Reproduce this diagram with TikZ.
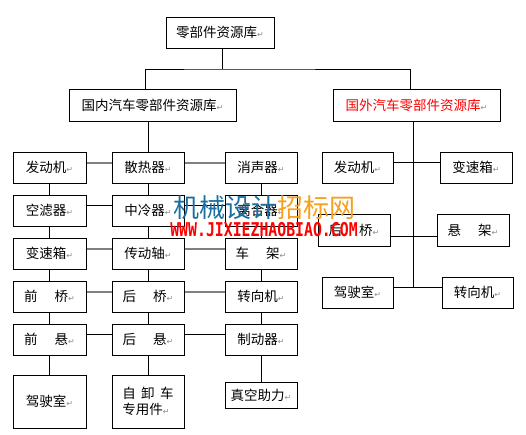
\documentclass[tikz,border=0pt]{standalone}
\usepackage{fontspec}
\newfontfamily\cjk{Noto Sans CJK SC}
\newfontfamily\symfont{DejaVu Sans}
\newfontfamily\wmmono{DejaVu Sans Mono}
\usetikzlibrary{positioning}
\definecolor{linkgray}{RGB}{128,128,128}
\definecolor{retgray}{RGB}{140,140,140}
\definecolor{wmblue}{RGB}{28,110,160}
\definecolor{wmorange}{RGB}{247,160,30}
\newcommand{\retmark}{{\symfont\fontsize{8}{8}\selectfont\color{retgray}↵}}

\begin{document}
\begin{tikzpicture}[
    x=1pt, y=-1pt,
    % Define the style for the boxes
    box/.style={draw=black, line width=1pt, minimum width=72pt, minimum height=31pt,
        inner sep=0pt, align=center, font=\cjk\fontsize{13.5}{16}\selectfont},
    widebox/.style={box, minimum width=167pt, minimum height=32pt},
    link/.style={line width=1pt},
    glink/.style={line width=2pt, draw=linkgray},
    wm/.style={inner sep=0pt, anchor=center}
]
    \useasboundingbox (0,0) rectangle (526,434);

    % root and the two libraries
    \node[box, minimum width=108pt] (root) at (220,32.5) {零部件资源库\retmark};
    \node[widebox] (dom) at (152.5,105) {国内汽车零部件资源库\retmark};
    \node[widebox, text=red] (abr) at (416.5,105) {国外汽车零部件资源库\retmark};

    \coordinate (bar) at (222,69);
    \draw[link] ([xshift=2pt]root.south) -- (bar);
    \draw[link] ([xshift=-7pt]dom.north) |- (bar) -| ([xshift=-6.5pt]abr.north);

    % domestic parts, column 1
    \node[box, minimum width=73pt] (d1-1) at (49.5,167.5) {发动机\retmark};
    \node[box, minimum width=73pt, below=11pt of d1-1] (d1-2) {空滤器\retmark};
    \node[box, minimum width=73pt, below=11pt of d1-2] (d1-3) {变速箱\retmark};
    \node[box, minimum width=73pt, below=11pt of d1-3] (d1-4) {前\hspace{1.25em}桥\retmark};
    \node[box, minimum width=73pt, below=11pt of d1-4] (d1-5) {前\hspace{1.25em}悬\retmark};
    \node[box, minimum width=73pt, minimum height=53pt, below=19pt of d1-5] (d1-6) {驾驶室\retmark};

    % column 2
    \node[box, right=25pt of d1-1] (d2-1) {散热器\retmark};
    \node[box, below=11pt of d2-1] (d2-2) {中冷器\retmark};
    \node[box, below=11pt of d2-2] (d2-3) {传动轴\retmark};
    \node[box, below=11pt of d2-3] (d2-4) {后\hspace{1.25em}桥\retmark};
    \node[box, below=11pt of d2-4] (d2-5) {后\hspace{1.25em}悬\retmark};
    \node[box, minimum height=53pt, below=19pt of d2-5, align=left] (d2-6)
        {自\hspace{0.4em}卸\hspace{0.4em}车\\专用件\retmark};

    % column 3
    \node[box, right=40pt of d2-1] (d3-1) {消声器\retmark};
    \node[box, below=11pt of d3-1] (d3-2) {离合器\retmark};
    \node[box, below=11pt of d3-2] (d3-3) {车\hspace{1.25em}架\retmark};
    \node[box, below=11pt of d3-3] (d3-4) {转向机\retmark};
    \node[box, below=11pt of d3-4] (d3-5) {制动器\retmark};
    \node[box, minimum height=26pt, below=26pt of d3-5] (d3-6) {真空助力\retmark};

    \draw[link] (dom.south -| d2-1.north) -- (d2-1.north);
    \foreach \c in {1,2,3} {
        \foreach \r [remember=\r as \lastr (initially 1)] in {2,...,6} {
            \draw[link] (d\c-\lastr.south) -- (d\c-\r.north);
        }
    }
    \foreach \r in {1,3,4} {
        \draw[glink] ([yshift=5pt]d1-\r.east) -- ([yshift=5pt]d2-\r.west);
        \draw[glink] ([yshift=5pt]d2-\r.east) -- ([yshift=5pt]d3-\r.west);
    }
    \foreach \r in {2,5} {
        \draw[link] ([yshift=5pt]d1-\r.east) -- ([yshift=5pt]d2-\r.west);
        \draw[link] ([yshift=5pt]d2-\r.east) -- ([yshift=5pt]d3-\r.west);
    }

    % foreign parts
    \node[box, minimum width=71pt] (f1) at (357.5,167.5) {发动机\retmark};
    \node[box] (f2) at (476,167.5) {变速箱\retmark};
    \node[box, minimum height=32pt] (f3) at (354,230) {后\hspace{1.25em}桥\retmark};
    \node[box, minimum height=32pt] (f4) at (473,230) {悬\hspace{1.25em}架\retmark};
    \node[box, minimum width=71pt] (f5) at (357.5,292.5) {驾驶室\retmark};
    \node[box, minimum width=71pt] (f6) at (477.5,292.5) {转向机\retmark};

    \coordinate (spine) at (413,287);
    \draw[link] (abr.south -| spine) -- (spine);
    \draw[link] ([yshift=5.5pt]f1.east) -- ([yshift=5.5pt]f2.west);
    \draw[link] ([yshift=-6pt]f3.east) -- ([yshift=-6pt]f4.west);
    \draw[link] ([yshift=5.5pt]f5.east) -- ([yshift=5.5pt]f6.west);

    % watermark
    \node[wm, font=\cjk\fontsize{26}{28}\selectfont] (wm1) at (264,207.5)
        {{\color{wmblue}机械设计}{\color{wmorange}招标网}};
    \node[wm, text=red, font=\wmmono\bfseries\fontsize{19}{20}\selectfont] (wm2) at (264,229.5)
        {\scalebox{0.78}[1]{WWW.JIXIEZHAOBIAO.COM}};
\end{tikzpicture}
\end{document}
